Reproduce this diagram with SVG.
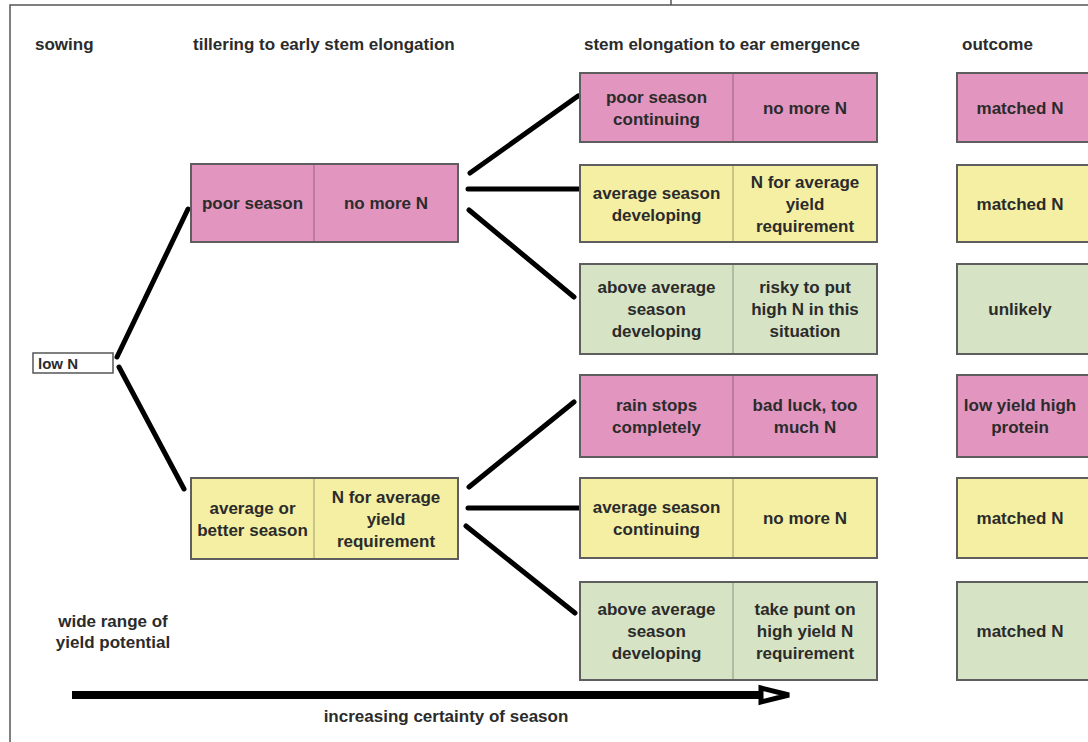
<svg xmlns="http://www.w3.org/2000/svg" width="1088" height="742" viewBox="0 0 1088 742">
<style>
.bg{fill:#ffffff}
.frame{stroke:#555555;stroke-width:1.5;fill:none}
.box{stroke:#5e5e5e;stroke-width:2}
.pink{fill:#e296bf}
.yellow{fill:#f4efa3}
.green{fill:#d6e3c5}
.div{stroke:#000000;stroke-opacity:0.35;stroke-width:1}
text{font-family:"Liberation Sans",Arial,sans-serif;font-weight:bold;font-size:17px;fill:#2b2b2b}
.c{text-anchor:middle}
.conn{stroke:#000000;stroke-width:5;stroke-linecap:round;fill:none}
</style>
<rect class="bg" x="0" y="0" width="1088" height="742"/>
<g id="frame">
<path class="frame" d="M10,742 V5 H1088"/>
<path class="frame" d="M671,0 V5"/>
</g>
<g id="headers">
<text x="35" y="50">sowing</text>
<text x="193" y="50">tillering to early stem elongation</text>
<text x="584" y="50">stem elongation to ear emergence</text>
<text x="962" y="50">outcome</text>
</g>
<g id="connectors">
<line class="conn" x1="117" y1="357" x2="188" y2="209"/>
<line class="conn" x1="119" y1="367" x2="184" y2="489"/>
<line class="conn" x1="470" y1="173" x2="578" y2="96"/>
<line class="conn" x1="468" y1="189" x2="580" y2="189"/>
<line class="conn" x1="469" y1="210" x2="574" y2="297"/>
<line class="conn" x1="469" y1="487" x2="574" y2="402"/>
<line class="conn" x1="468" y1="508" x2="580" y2="508"/>
<line class="conn" x1="466" y1="526" x2="575" y2="613"/>
</g>
<g id="lowN">
<rect x="33" y="353" width="80" height="20" fill="#ffffff" stroke="#555555" stroke-width="1.5"/>
<text x="38" y="369" style="font-size:15px">low N</text>
</g>
<g id="till-poor">
<rect class="box pink" x="191" y="164" width="267" height="78"/>
<line class="div" x1="314" y1="165" x2="314" y2="241"/>
<text class="c" x="252.5" y="209">poor season</text>
<text class="c" x="386" y="209">no more N</text>
</g>
<g id="till-average">
<rect class="box yellow" x="191" y="478" width="267" height="81"/>
<line class="div" x1="314" y1="479" x2="314" y2="558"/>
<text class="c" x="252.5" y="513.5">average or<tspan x="252.5" dy="22">better season</tspan></text>
<text class="c" x="386" y="502.5">N for average<tspan x="386" dy="22">yield</tspan><tspan x="386" dy="22">requirement</tspan></text>
</g>
<g id="stem-1">
<rect class="box pink" x="580" y="73" width="297" height="69"/>
<line class="div" x1="733" y1="74" x2="733" y2="141"/>
<text class="c" x="656.5" y="102.5">poor season<tspan x="656.5" dy="22">continuing</tspan></text>
<text class="c" x="805" y="113.5">no more N</text>
</g>
<g id="stem-2">
<rect class="box yellow" x="580" y="165" width="297" height="77"/>
<line class="div" x1="733" y1="166" x2="733" y2="241"/>
<text class="c" x="656.5" y="198.5">average season<tspan x="656.5" dy="22">developing</tspan></text>
<text class="c" x="805" y="187.5">N for average<tspan x="805" dy="22">yield</tspan><tspan x="805" dy="22">requirement</tspan></text>
</g>
<g id="stem-3">
<rect class="box green" x="580" y="264" width="297" height="90"/>
<line class="div" x1="733" y1="265" x2="733" y2="353"/>
<text class="c" x="656.5" y="293">above average<tspan x="656.5" dy="22">season</tspan><tspan x="656.5" dy="22">developing</tspan></text>
<text class="c" x="805" y="293">risky to put<tspan x="805" dy="22">high N in this</tspan><tspan x="805" dy="22">situation</tspan></text>
</g>
<g id="stem-4">
<rect class="box pink" x="580" y="375" width="297" height="82"/>
<line class="div" x1="733" y1="376" x2="733" y2="456"/>
<text class="c" x="656.5" y="411">rain stops<tspan x="656.5" dy="22">completely</tspan></text>
<text class="c" x="805" y="411">bad luck, too<tspan x="805" dy="22">much N</tspan></text>
</g>
<g id="stem-5">
<rect class="box yellow" x="580" y="478" width="297" height="80"/>
<line class="div" x1="733" y1="479" x2="733" y2="557"/>
<text class="c" x="656.5" y="513">average season<tspan x="656.5" dy="22">continuing</tspan></text>
<text class="c" x="805" y="524">no more N</text>
</g>
<g id="stem-6">
<rect class="box green" x="580" y="582" width="297" height="98"/>
<line class="div" x1="733" y1="583" x2="733" y2="679"/>
<text class="c" x="656.5" y="615">above average<tspan x="656.5" dy="22">season</tspan><tspan x="656.5" dy="22">developing</tspan></text>
<text class="c" x="805" y="615">take punt on<tspan x="805" dy="22">high yield N</tspan><tspan x="805" dy="22">requirement</tspan></text>
</g>
<g id="outcome-1">
<rect class="box pink" x="957" y="73" width="140" height="69"/>
<text class="c" x="1020" y="113.5">matched N</text>
</g>
<g id="outcome-2">
<rect class="box yellow" x="957" y="165" width="140" height="77"/>
<text class="c" x="1020" y="209.5">matched N</text>
</g>
<g id="outcome-3">
<rect class="box green" x="957" y="264" width="140" height="90"/>
<text class="c" x="1020" y="315">unlikely</text>
</g>
<g id="outcome-4">
<rect class="box pink" x="957" y="375" width="140" height="82"/>
<text class="c" x="1020" y="411">low yield high<tspan x="1020" dy="22">protein</tspan></text>
</g>
<g id="outcome-5">
<rect class="box yellow" x="957" y="478" width="140" height="80"/>
<text class="c" x="1020" y="524">matched N</text>
</g>
<g id="outcome-6">
<rect class="box green" x="957" y="582" width="140" height="98"/>
<text class="c" x="1020" y="637">matched N</text>
</g>
<g id="yield-note">
<text class="c" x="113" y="627">wide range of<tspan x="113" dy="21">yield potential</tspan></text>
</g>
<g id="timeline">
<line x1="72" y1="695" x2="762" y2="695" stroke="#000000" stroke-width="8"/>
<polygon points="761,688 789,695 761,702" fill="#ffffff" stroke="#000000" stroke-width="5" stroke-linejoin="miter"/>
<text class="c" x="446" y="722">increasing certainty of season</text>
</g>
</svg>
